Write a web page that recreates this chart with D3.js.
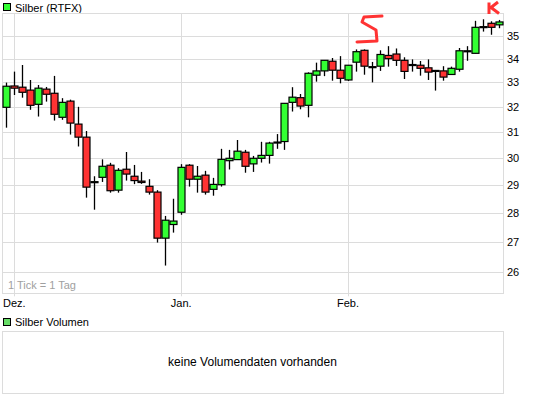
<!DOCTYPE html>
<html>
<head>
<meta charset="utf-8">
<script src="https://cdn.jsdelivr.net/npm/d3@7"></script>
<style>
  body { margin: 0; background: #fff; }
  text { font-family: "Liberation Sans", Arial, sans-serif; }
</style>
</head>
<body>
<div id="chart"></div>
<script>
var dates = ["2011-11-30",
  "2011-12-01","2011-12-02","2011-12-05","2011-12-06","2011-12-07","2011-12-08","2011-12-09",
  "2011-12-12","2011-12-13","2011-12-14","2011-12-15","2011-12-16","2011-12-19","2011-12-20",
  "2011-12-21","2011-12-22","2011-12-23","2011-12-27","2011-12-28","2011-12-29","2011-12-30",
  "2012-01-03","2012-01-04","2012-01-05","2012-01-06","2012-01-09","2012-01-10","2012-01-11",
  "2012-01-12","2012-01-13","2012-01-16","2012-01-17","2012-01-18","2012-01-19","2012-01-20",
  "2012-01-23","2012-01-24","2012-01-25","2012-01-26","2012-01-27","2012-01-30","2012-01-31",
  "2012-02-01","2012-02-02","2012-02-03","2012-02-06","2012-02-07","2012-02-08","2012-02-09",
  "2012-02-10","2012-02-13","2012-02-14","2012-02-15","2012-02-16","2012-02-17","2012-02-20",
  "2012-02-21","2012-02-22","2012-02-23","2012-02-24","2012-02-27","2012-02-28"]

var opens = [31.98,32.85,32.80,32.68,32.10,32.72,32.55,31.58,32.23,31.31,30.80,29.12,29.28,29.73,28.81,29.58,
  29.32,29.14,28.95,28.74,27.12,27.59,28.02,29.73,29.21,29.36,28.84,29.01,29.90,29.94,30.22,29.78,29.99,
  30.10,30.61,30.63,32.18,32.37,32.06,33.30,33.48,33.89,33.51,33.10,33.85,34.36,33.66,33.68,34.14,34.20,
  33.93,33.75,33.72,33.61,33.50,33.48,33.33,33.55,34.34,34.23,35.40,35.55,35.48]
var highs = [32.99,33.45,33.73,33.10,32.89,32.81,33.27,32.35,32.29,32.00,31.04,29.32,29.95,29.82,29.62,30.23,
  29.74,29.48,29.21,28.81,27.89,28.50,29.77,29.77,29.70,29.52,29.26,30.35,30.31,30.69,30.31,30.08,30.62,
  30.62,30.92,32.14,32.80,32.52,33.42,33.83,33.93,34.03,34.11,33.72,34.40,34.40,33.86,34.36,34.54,34.44,
  34.06,33.97,33.90,33.97,33.52,33.68,33.66,34.46,34.54,35.66,35.73,35.64,35.70]
var lows = [31.17,32.48,32.37,31.88,31.61,32.21,31.45,31.48,30.90,30.44,28.54,28.11,29.11,28.72,28.72,29.16,
  29.03,29.04,28.65,26.97,26.20,27.31,27.93,28.94,28.72,28.65,28.61,28.94,29.57,29.94,29.45,29.48,29.83,
  29.79,30.35,30.31,31.81,31.90,31.58,33.03,33.26,33.07,32.96,33.06,33.45,33.32,33.00,33.48,33.66,33.69,
  33.14,33.45,33.28,33.10,32.66,33.07,33.31,33.45,33.91,34.23,35.18,35.04,35.33]
var closes = [32.84,32.76,32.59,32.06,32.76,32.51,31.70,32.18,31.35,30.80,28.92,29.12,29.69,28.79,29.54,29.40,
  29.16,29.09,28.74,27.12,27.74,27.71,29.65,29.21,29.32,28.74,29.02,29.95,29.99,30.26,29.69,29.99,30.10,
  30.57,30.61,32.14,32.39,32.03,33.38,33.48,33.93,33.51,33.17,33.72,34.30,33.68,33.66,34.18,34.00,33.93,
  33.46,33.75,33.59,33.43,33.50,33.22,33.59,34.34,34.34,35.37,35.40,35.37,35.61]

var yTicks = [26,27,28,29,30,31,32,33,34,35]
var monthNames = ["Jan.","Feb.","Mär.","Apr.","Mai","Jun.","Jul.","Aug.","Sep.","Okt.","Nov.","Dez."]

var candles = dates.map(function(d,i){
  return {date:d, open:opens[i], high:highs[i], low:lows[i], close:closes[i]}
})

var svg = d3.select("#chart").append("svg").attr("width",545).attr("height",398)

var plotLeft = 2, plotRight = 503, plotTop = 13.3, plotBottom = 293.3

var xScale = d3.scaleLinear().domain([-0.55, dates.length - 0.5]).range([plotLeft,plotRight])
var yScale = d3.scaleLog().domain([25.3,36]).range([plotBottom,plotTop])

// month starts
var monthTicks = []
dates.forEach(function(d,i){
  if(i > 0 && d.slice(5,7) != dates[i-1].slice(5,7)){
    monthTicks.push({i:i, label:monthNames[+d.slice(5,7)-1]})
  }
})

// legend
svg.append("rect").attr("x",3.5).attr("y",3.5).attr("width",7).attr("height",7)
  .attr("fill","#33ff33").attr("stroke","#000")
svg.append("text").text("Silber (RTFX)").attr("x",15).attr("y",11.5)
  .attr("font-size","11px").attr("fill","#000")

// grid
svg.selectAll(".hgrid").data(yTicks).enter().append("line")
  .attr("x1",plotLeft).attr("x2",plotRight)
  .attr("y1",function(d){return Math.round(yScale(d))+0.5})
  .attr("y2",function(d){return Math.round(yScale(d))+0.5})
  .attr("stroke","#dcdcdc")
svg.selectAll(".vgrid").data(monthTicks).enter().append("line")
  .attr("x1",function(d){return Math.round(xScale(d.i))+0.5})
  .attr("x2",function(d){return Math.round(xScale(d.i))+0.5})
  .attr("y1",plotTop).attr("y2",plotBottom+3)
  .attr("stroke","#dcdcdc")

svg.append("rect").attr("x",plotLeft+0.5).attr("y",Math.round(plotTop)+0.5)
  .attr("width",plotRight-plotLeft).attr("height",Math.round(plotBottom)-Math.round(plotTop))
  .attr("fill","none").attr("stroke","#dcdcdc")

// axis labels
svg.selectAll(".ylab").data(yTicks).enter().append("text")
  .text(function(d){return d})
  .attr("x",507).attr("y",function(d){return yScale(d)+4})
  .attr("font-size","11px").attr("fill","#000")
svg.selectAll(".xlab").data(monthTicks).enter().append("text")
  .text(function(d){return d.label})
  .attr("x",function(d){return xScale(d.i)}).attr("y",307)
  .attr("text-anchor","middle")
  .attr("font-size","11px").attr("fill","#000")

svg.append("text").text("1 Tick = 1 Tag").attr("x",8).attr("y",289)
  .attr("font-size","11px").attr("fill","#a0a0a0")

// candles
var g = svg.append("g")
g.selectAll(".wick").data(candles).enter().append("line")
  .attr("x1",function(d,i){return Math.round(xScale(i))+0.5})
  .attr("x2",function(d,i){return Math.round(xScale(i))+0.5})
  .attr("y1",function(d){return yScale(d.high)})
  .attr("y2",function(d){return yScale(d.low)})
  .attr("stroke","#000").attr("stroke-width",1.3)
g.selectAll(".body").data(candles).enter().append("rect")
  .attr("x",function(d,i){return Math.round(xScale(i))-3})
  .attr("y",function(d){return yScale(Math.max(d.open,d.close))})
  .attr("width",7)
  .attr("height",function(d){return Math.max(1,Math.abs(yScale(d.open)-yScale(d.close)))})
  .attr("fill",function(d){return d.close >= d.open ? "#33ff33" : "#ff3333"})
  .attr("stroke","#000").attr("stroke-width",1.2)

// hand drawn marks
svg.append("path").attr("d","M382,16 L364,17 L362,22 L376,30 L377,41 L357,42")
  .attr("fill","none").attr("stroke","#ff3333").attr("stroke-width",3)
  .attr("stroke-linejoin","round").attr("stroke-linecap","round")
svg.append("path").attr("d","M489,2.5 L489,14 M498,2 L491,7.5 L499,13.5")
  .attr("fill","none").attr("stroke","#ff3333").attr("stroke-width",3)
  .attr("stroke-linejoin","round")

// volume panel
svg.append("rect").attr("x",3.5).attr("y",318.5).attr("width",7).attr("height",7)
  .attr("fill","#66dd66").attr("stroke","#000")
svg.append("text").text("Silber Volumen").attr("x",15).attr("y",326)
  .attr("font-size","11px").attr("fill","#000")
svg.append("rect").attr("x",plotLeft+0.5).attr("y",331.5).attr("width",plotRight-plotLeft).attr("height",62)
  .attr("fill","none").attr("stroke","#dcdcdc")
svg.append("text").text("keine Volumendaten vorhanden").attr("x",(plotLeft+plotRight)/2).attr("y",366)
  .attr("text-anchor","middle").attr("font-size","12px").attr("fill","#000")
</script>
</body>
</html>
